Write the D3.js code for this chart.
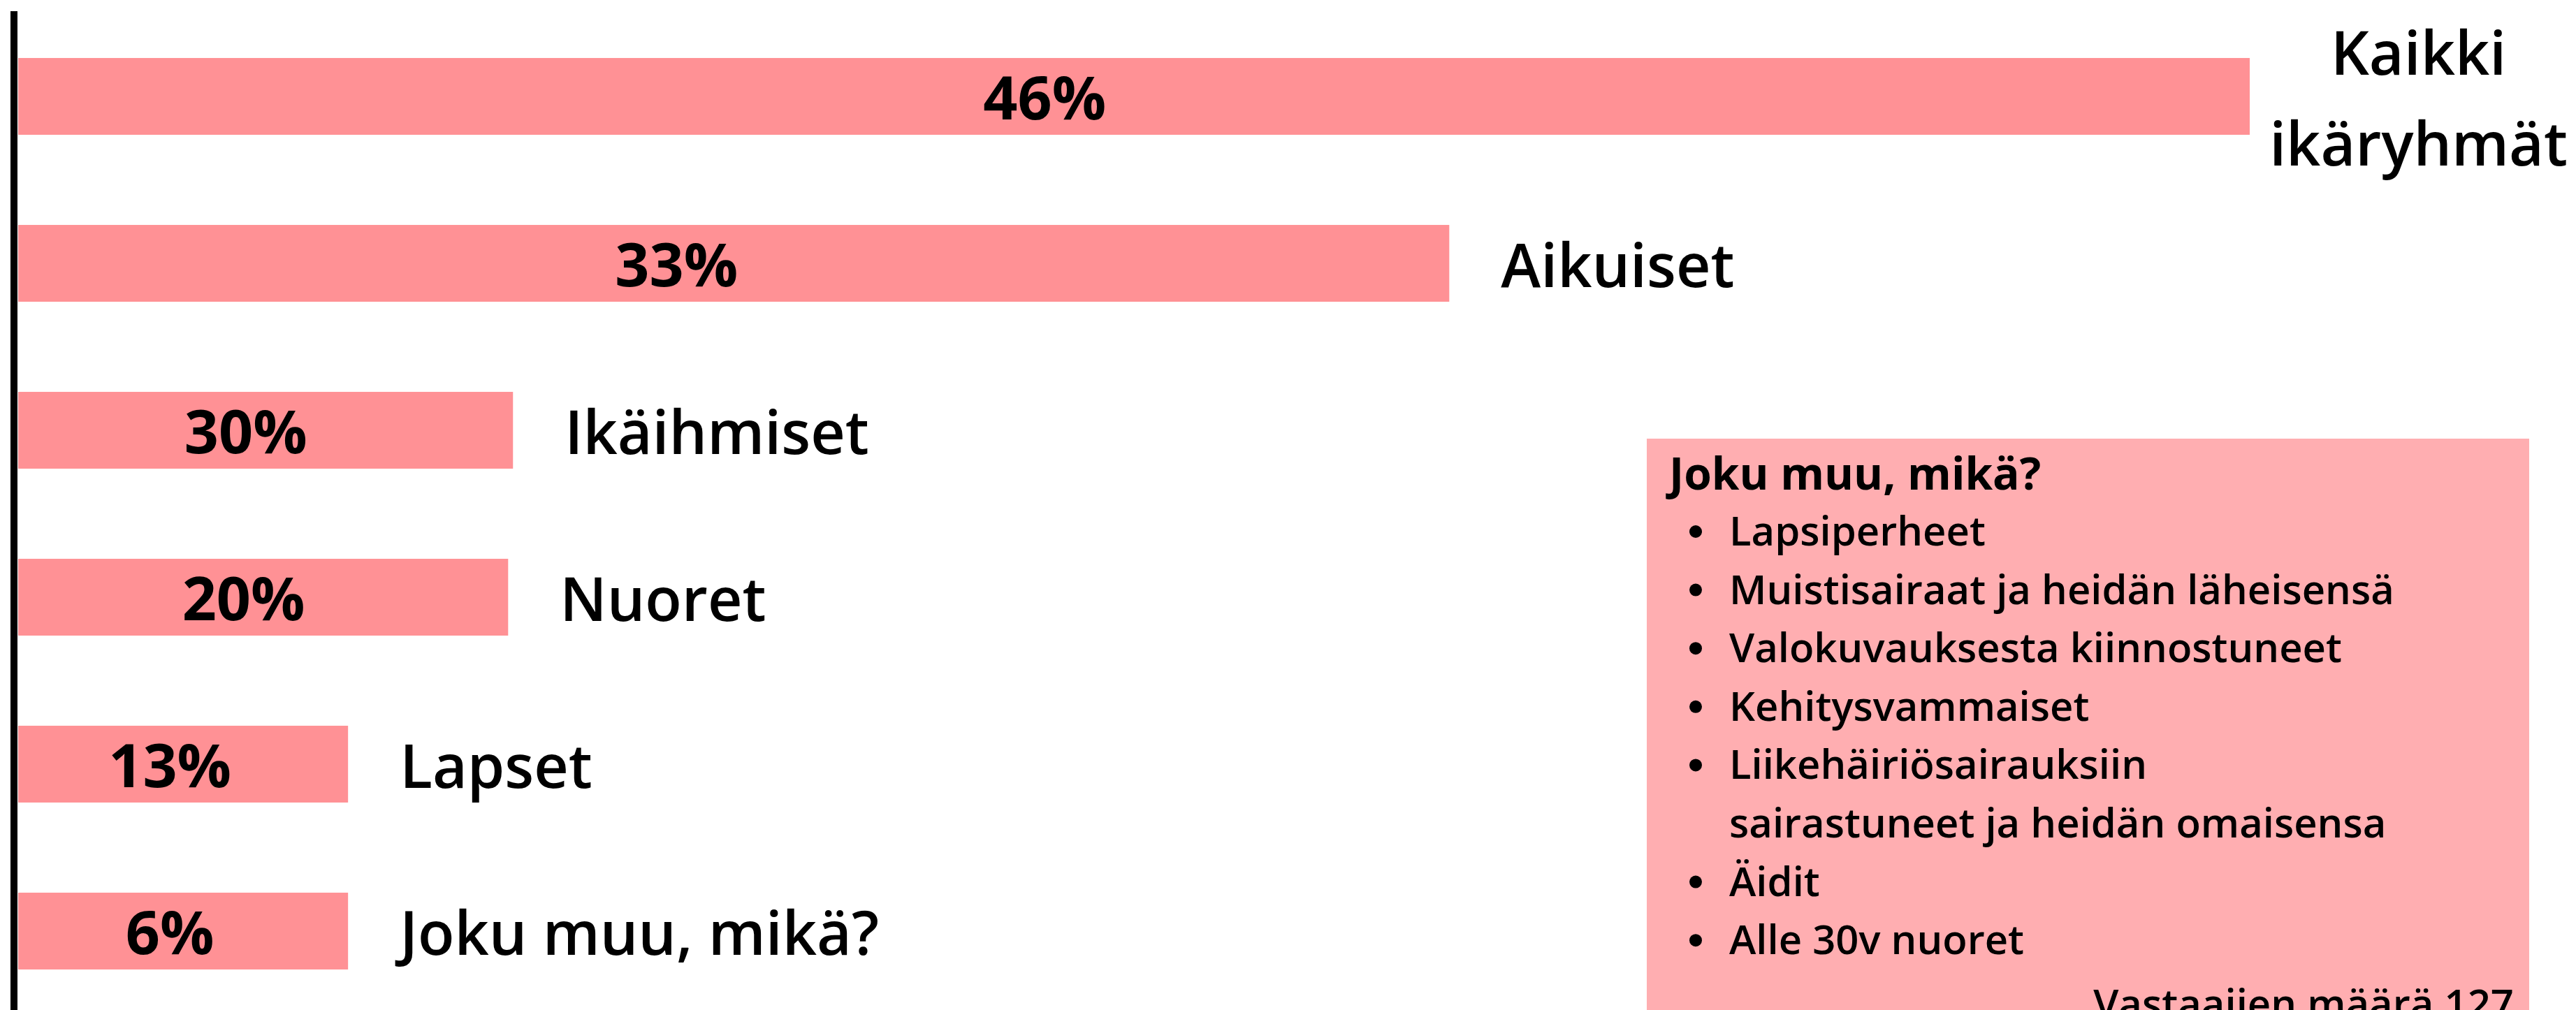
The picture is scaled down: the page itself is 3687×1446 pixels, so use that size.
<!DOCTYPE html>
<html lang="fi">
<head>
<meta charset="utf-8">
<script src="https://cdn.jsdelivr.net/npm/d3@7"></script>
<style>
  html, body { margin: 0; padding: 0; background: #fff; }
  svg { display: block; font-family: "Open Sans", "Noto Sans", sans-serif; }
</style>
</head>
<body>
<div id="chart"></div>
<script>
// target groups, top to bottom
const categories = ["Kaikki ikäryhmät", "Aikuiset", "Ikäihmiset", "Nuoret", "Lapset", "Joku muu, mikä?"];
// printed percentages
const percents = [46, 33, 30, 20, 13, 6];
// drawn bar lengths (the original graphic is not to scale)
const barLengths = [46, 29.5, 10.2, 10.1, 6.8, 6.8];

// "Joku muu" free-text answers
const otherTitle = "Joku muu, mikä?";
const otherAnswers = [
  ["Lapsiperheet"],
  ["Muistisairaat ja heidän läheisensä"],
  ["Valokuvauksesta kiinnostuneet"],
  ["Kehitysvammaiset"],
  ["Liikehäiriösairauksiin", "sairastuneet ja heidän omaisensa"],
  ["Äidit"],
  ["Alle 30v nuoret"]
];
const respondents = "Vastaajien määrä 127";

const W = 3687, H = 1446;
const barColor = "#ff9195";
const boxColor = "#ffaeb1";

const svg = d3.select("#chart").append("svg")
  .attr("width", W)
  .attr("height", H)
  .attr("viewBox", `0 0 ${W} ${H}`);

svg.append("rect").attr("width", W).attr("height", H).attr("fill", "#fff");

const x = d3.scaleLinear()
  .domain([0, d3.max(barLengths)])
  .range([26, 3220]);

const y = d3.scaleBand()
  .domain(categories)
  .range([18.5, 1452.5])
  .paddingInner(0.54)
  .paddingOuter(0.27);

const rows = categories.map((c, i) => ({ cat: c, pct: percents[i], len: barLengths[i] }));

// info box (runs off the bottom edge, like the original)
const box = svg.append("g");
box.append("rect")
  .attr("x", 2357).attr("y", 628)
  .attr("width", 1263).attr("height", H)
  .attr("fill", boxColor);

box.append("text")
  .attr("x", 2389).attr("y", 701)
  .attr("font-size", 64)
  .attr("font-weight", 700)
  .text(otherTitle);

const lineH = 83.6;
let ln = 0;
otherAnswers.forEach(lines => {
  lines.forEach((t, j) => {
    const by = 781 + ln * lineH;
    if (j === 0) {
      box.append("circle").attr("cx", 2427).attr("cy", by - 20).attr("r", 9).attr("fill", "#000");
    }
    box.append("text")
      .attr("x", 2475).attr("y", by)
      .attr("font-size", 58)
      .attr("font-weight", 600)
      .text(t);
    ln++;
  });
});

box.append("text")
  .attr("x", 3598).attr("y", 1458)
  .attr("text-anchor", "end")
  .attr("font-size", 58)
  .attr("font-weight", 600)
  .text(respondents);

// bars
const gBars = svg.append("g");
gBars.selectAll("rect")
  .data(rows)
  .join("rect")
  .attr("x", x(0))
  .attr("y", d => y(d.cat))
  .attr("width", d => x(d.len) - x(0))
  .attr("height", y.bandwidth())
  .attr("fill", barColor);

// percentage labels, a little left of the bar middle like the original
gBars.selectAll("text.pct")
  .data(rows)
  .join("text")
  .attr("class", "pct")
  .attr("x", d => x(0) + (x(d.len) - x(0)) * 0.46)
  .attr("y", d => y(d.cat) + y.bandwidth() / 2 + 33)
  .attr("text-anchor", "middle")
  .attr("font-size", 86)
  .attr("font-weight", 700)
  .text(d => d.pct + "%");

// category labels to the right of each bar
const labelGap = 74;
const gLab = svg.append("g");
rows.forEach(d => {
  const words = d.cat === "Kaikki ikäryhmät" ? ["Kaikki", "ikäryhmät"] : [d.cat];
  const cy = y(d.cat) + y.bandwidth() / 2;
  const t = gLab.append("text")
    .attr("font-size", 86)
    .attr("font-weight", 600);
  if (words.length === 1) {
    t.attr("x", x(d.len) + labelGap)
      .attr("y", cy + 34)
      .text(words[0]);
  } else {
    const lh = 130;
    const spans = t.selectAll("tspan").data(words).join("tspan")
      .attr("y", (w, i) => cy + 34 + (i - (words.length - 1) / 2) * lh)
      .text(w => w);
    const maxW = d3.max(spans.nodes(), n => n.getComputedTextLength());
    // keep the wrapped label inside the right edge
    const cx = Math.min(x(d.len) + 40 + maxW / 2, W - 12 - maxW / 2);
    t.attr("text-anchor", "middle");
    spans.attr("x", cx);
  }
});

// vertical axis line
svg.append("line")
  .attr("x1", 20).attr("x2", 20)
  .attr("y1", 16).attr("y2", H)
  .attr("stroke", "#000")
  .attr("stroke-width", 10);
</script>
</body>
</html>
